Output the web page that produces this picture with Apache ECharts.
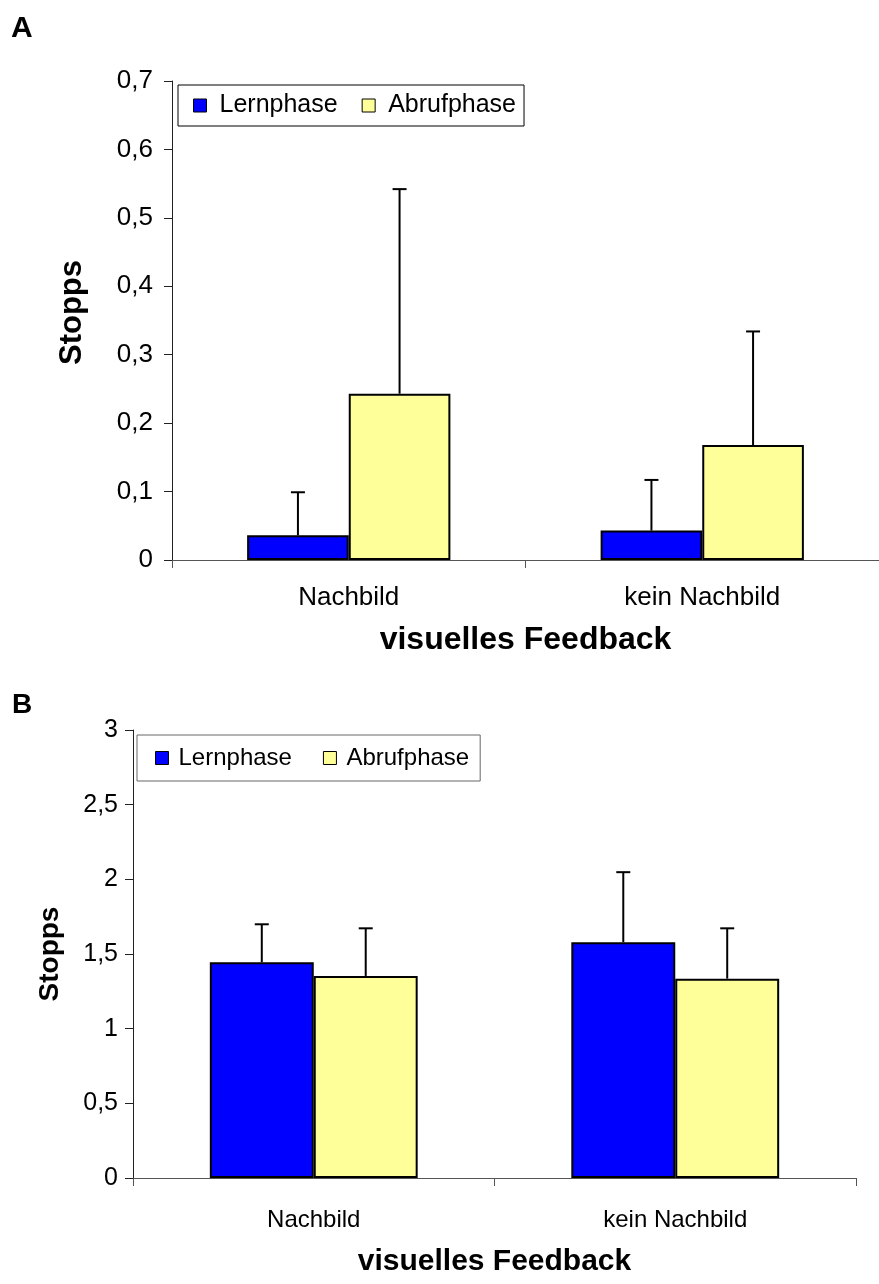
<!DOCTYPE html>
<html lang="de">
<head>
	<meta charset="UTF-8">
	<title>Stopps</title>
	<style>
		* {
			margin: 0;
			padding: 0;
		}

		#box {
			width: 879px;
			height: 1284px;
			background: #fff;
		}
	</style>
	<script src="https://cdn.jsdelivr.net/npm/echarts@6/dist/echarts.min.js"></script>
</head>
<body>
<div id="box"></div>
</body>
<script>
	// Daten
	const categories = ['Nachbild', 'kein Nachbild'];
	const seriesNames = ['Lernphase', 'Abrufphase'];

	// Diagramm A
	const lernA = [0.036, 0.043];
	const lernA_err = [0.063, 0.074];
	const abrufA = [0.243, 0.168];
	const abrufA_err = [0.299, 0.166];

	// Diagramm B
	const lernB = [1.445, 1.579];
	const lernB_err = [0.254, 0.469];
	const abrufB = [1.353, 1.335];
	const abrufB_err = [0.319, 0.337];

	const FONT = 'Liberation Sans, Arial, sans-serif';
	const BLUE = '#0000ff';
	const YELLOW = '#ffff99';
	const GAP = 0.425;

	const myEcharts = echarts.init(document.getElementById('box'));

	const fmt = function (v) {
		return String(Number(v.toFixed(1))).replace('.', ',');
	};

	// Fehlerbalken (nur nach oben)
	function errData(means, errs, k) {
		return means.map(function (m, i) {
			return [i, m, errs[i], k];
		});
	}

	function renderErr(params, api) {
		const cat = api.value(0);
		const mean = api.value(1);
		const err = api.value(2);
		const k = api.value(3);
		const bw = api.size([1, 0])[0] * (1 - GAP) / 2;
		const base = api.coord([cat, mean]);
		const top = api.coord([cat, mean + err]);
		const x = base[0] + (k - 0.5) * bw;
		const cap = 7;
		const style = {stroke: '#000', lineWidth: 2};
		return {
			type: 'group',
			children: [
				{type: 'line', shape: {x1: x, y1: base[1], x2: x, y2: top[1]}, style: style},
				{type: 'line', shape: {x1: x - cap, y1: top[1], x2: x + cap, y2: top[1]}, style: style},
			],
		};
	}

	function xAxis(gridIndex, margin, nameGap, labelSize, nameSize) {
		return {
			type: 'category',
			gridIndex: gridIndex,
			data: categories,
			name: 'visuelles Feedback',
			nameLocation: 'middle',
			nameGap: nameGap,
			nameTextStyle: {fontFamily: FONT, fontSize: nameSize, fontWeight: 'bold', color: '#000'},
			axisLine: {lineStyle: {color: '#555', width: 1}},
			axisTick: {show: true, length: 8, lineStyle: {color: '#555'}},
			axisLabel: {margin: margin, fontFamily: FONT, fontSize: labelSize, color: '#000'},
			splitLine: {show: false},
		};
	}

	function yAxis(gridIndex, max, interval, nameGap, nameSize, namePad, labelSize, margin) {
		return {
			type: 'value',
			gridIndex: gridIndex,
			min: 0,
			max: max,
			interval: interval,
			name: 'Stopps',
			nameLocation: 'middle',
			nameRotate: 90,
			nameGap: nameGap,
			nameTextStyle: {fontFamily: FONT, fontSize: nameSize, fontWeight: 'bold', color: '#000', padding: namePad},
			axisLine: {show: true, lineStyle: {color: '#222', width: 1}},
			axisTick: {show: true, length: 8, lineStyle: {color: '#222'}},
			axisLabel: {margin: margin, fontFamily: FONT, fontSize: labelSize, color: '#000', formatter: fmt},
			splitLine: {show: false},
		};
	}

	function bar(name, data, xi, color) {
		return {
			name: name,
			type: 'bar',
			xAxisIndex: xi,
			yAxisIndex: xi,
			data: data,
			barGap: '0%',
			barCategoryGap: (GAP * 100) + '%',
			itemStyle: {color: color, borderColor: '#000', borderWidth: 2},
			silent: true,
		};
	}

	function errSeries(xi, data) {
		return {
			type: 'custom',
			xAxisIndex: xi,
			yAxisIndex: xi,
			data: data,
			renderItem: renderErr,
			z: 5,
			silent: true,
		};
	}

	function legend(left, top, fontSize, padding, itemGap, textGap, borderColor) {
		return {
			data: seriesNames,
			left: left,
			top: top,
			orient: 'horizontal',
			icon: 'rect',
			itemWidth: 13,
			itemHeight: 13,
			itemGap: itemGap,
			padding: padding,
			borderColor: borderColor,
			borderWidth: 1,
			backgroundColor: '#fff',
			selectedMode: false,
			itemStyle: {borderColor: '#000', borderWidth: 1},
			textStyle: {fontFamily: FONT, fontSize: fontSize, color: '#000', padding: [0, 0, 0, textGap]},
		};
	}

	myEcharts.setOption({
		animation: false,
		backgroundColor: '#fff',
		title: [
			{text: 'A', left: 11, top: 14, padding: 0, textStyle: {fontFamily: FONT, fontSize: 30, fontWeight: 'bold', color: '#000'}},
			{text: 'B', left: 12, top: 691, padding: 0, textStyle: {fontFamily: FONT, fontSize: 28, fontWeight: 'bold', color: '#000'}},
		],
		grid: [
			{left: 172, top: 81, width: 716, height: 479},
			{left: 133, top: 730, width: 723, height: 448},
		],
		legend: [
			legend(178, 85, 25, [8, 8, 8, 15], 24, 8, '#000'),
			legend(137, 735, 24, [11, 11, 11, 18], 31, 5, '#666'),
		],
		xAxis: [
			xAxis(0, 25, 64, 26, 32),
			xAxis(1, 30, 69, 24, 30),
		],
		yAxis: [
			yAxis(0, 0.7, 0.1, 84, 31, [0, 0, 0, 16], 26, 19),
			yAxis(1, 3, 0.5, 69, 28, 0, 25, 15),
		],
		series: [
			bar('Lernphase', lernA, 0, BLUE),
			bar('Abrufphase', abrufA, 0, YELLOW),
			errSeries(0, errData(lernA, lernA_err, 0).concat(errData(abrufA, abrufA_err, 1))),
			bar('Lernphase', lernB, 1, BLUE),
			bar('Abrufphase', abrufB, 1, YELLOW),
			errSeries(1, errData(lernB, lernB_err, 0).concat(errData(abrufB, abrufB_err, 1))),
		],
	});
</script>
</html>
